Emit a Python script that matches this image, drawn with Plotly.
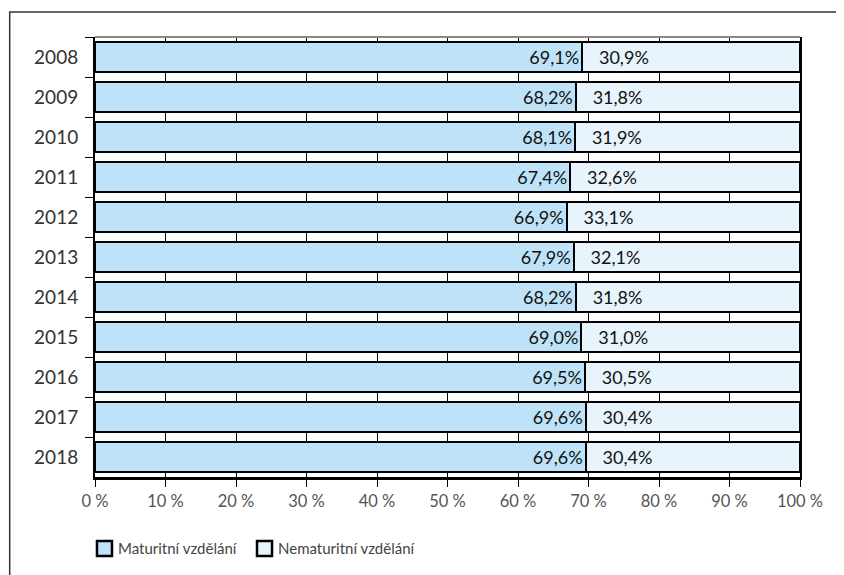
import plotly.graph_objects as go

years = ["2008", "2009", "2010", "2011", "2012", "2013", "2014", "2015", "2016", "2017", "2018"]
maturitni = [69.1, 68.2, 68.1, 67.4, 66.9, 67.9, 68.2, 69.0, 69.5, 69.6, 69.6]
nematuritni = [30.9, 31.8, 31.9, 32.6, 33.1, 32.1, 31.8, 31.0, 30.5, 30.4, 30.4]
series_names = ["Maturitní vzdělání", "Nematuritní vzdělání"]
series_colors = ["#BEE3F8", "#E7F4FC"]
x_ticks = [0, 10, 20, 30, 40, 50, 60, 70, 80, 90, 100]

def fmt(v):
    return f"{v:.1f}".replace(".", ",") + "%"

FONT = "Lato, 'Open Sans', sans-serif"

fig = go.Figure()
fig.add_trace(go.Bar(
    y=years, x=maturitni, orientation="h", name=series_names[0],
    marker=dict(color=series_colors[0], line=dict(color="black", width=2)),
    text=[fmt(v) for v in maturitni], textposition="inside",
    insidetextanchor="end", textangle=0,
    textfont=dict(family=FONT, size=18, color="#111"),
    hoverinfo="skip",
))
fig.add_trace(go.Bar(
    y=years, x=nematuritni, orientation="h", name=series_names[1],
    marker=dict(color=series_colors[1], line=dict(color="black", width=2)),
    text=["\u00a0\u00a0\u00a0" + fmt(v) for v in nematuritni], textposition="inside",
    insidetextanchor="start", textangle=0,
    textfont=dict(family=FONT, size=18, color="#111"),
    hoverinfo="skip",
))

shapes = [
    dict(type="line", xref="paper", yref="paper", x0=0, x1=1, y0=1, y1=1,
         line=dict(color="#888", width=2)),
    dict(type="line", xref="paper", yref="paper", x0=-0.122, x1=1.2, y0=1.057, y1=1.057,
         line=dict(color="#666", width=2)),
    dict(type="line", xref="paper", yref="paper", x0=-0.121, x1=-0.121, y0=1.057, y1=-0.4,
         line=dict(color="#333", width=1.5)),
]
annotations = []
legend_pos = [(0.0028, 0.0298), (0.2298, 0.2567)]
for (sx, tx), name, col in zip(legend_pos, series_names, series_colors):
    shapes.append(dict(type="rect", xref="paper", yref="paper",
                       x0=sx, x1=sx + 0.0213, y0=-0.1795, y1=-0.1455,
                       fillcolor=col, line=dict(color="black", width=2.5)))
    annotations.append(dict(xref="paper", yref="paper", x=tx, y=-0.161,
                            xanchor="left", yanchor="middle", showarrow=False,
                            text=name, font=dict(family=FONT, size=15, color="#444")))

fig.update_layout(
    barmode="stack",
    bargap=0.24,
    width=844, height=575,
    margin=dict(l=87, r=52, t=29, b=106),
    paper_bgcolor="white", plot_bgcolor="white",
    font=dict(family=FONT, color="#444"),
    showlegend=False,
    uniformtext=dict(minsize=18, mode="show"),
    shapes=shapes,
    annotations=annotations,
)
fig.update_xaxes(
    range=[0, 100], tickvals=x_ticks, ticktext=[f"{v} %" for v in x_ticks],
    showgrid=True, gridcolor="black", gridwidth=1,
    showline=True, linecolor="black", linewidth=2.5,
    ticks="outside", ticklen=7, tickcolor="black", tickwidth=1,
    tickfont=dict(size=16.5, color="#555"), zeroline=False, fixedrange=True,
)
fig.update_yaxes(
    categoryorder="array", categoryarray=years, autorange="reversed",
    tickson="boundaries", ticks="outside", ticklen=8, tickcolor="black", tickwidth=1,
    ticklabelstandoff=11,
    showline=True, linecolor="black", linewidth=2, mirror=True,
    showgrid=False, tickfont=dict(size=19, color="#333"), fixedrange=True,
)

fig.write_html("out.html")
